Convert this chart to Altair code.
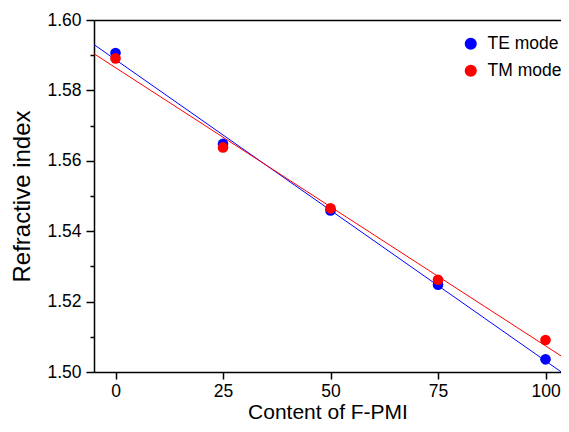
import altair as alt
import pandas as pd

# ---- data ----
content = [0, 25, 50, 75, 100]
te_mode = [1.5906, 1.5648, 1.5459, 1.5248, 1.5036]
tm_mode = [1.5891, 1.5638, 1.5465, 1.5262, 1.5091]
modes = ["TE mode", "TM mode"]
colors = ["#0000FF", "#FF0000"]
x_ticks = [0, 25, 50, 75, 100]
y_major = [1.50, 1.52, 1.54, 1.56, 1.58, 1.60]
y_minor = [1.51, 1.53, 1.55, 1.57, 1.59]

df = pd.DataFrame({
    "content": content + content,
    "n": te_mode + tm_mode,
    "mode": [modes[0]] * len(content) + [modes[1]] * len(content),
})

font = "Liberation Sans"
xscale = alt.Scale(domain=[-5, 103.6], nice=False, zero=False)
yscale = alt.Scale(domain=[1.50, 1.60], nice=False, zero=False)
cscale = alt.Scale(domain=modes, range=colors)

legend = alt.Legend(orient="none", legendX=368, legendY=15,
                    title=None, labelFontSize=17.5, labelFont=font,
                    labelColor="black", symbolSize=113,
                    symbolType="circle", labelOffset=8,
                    rowPadding=8, padding=0)

xaxis = alt.Axis(values=x_ticks, title="Content of F-PMI", tickSize=7,
                 labelPadding=3, titlePadding=2, titleFontSize=21, grid=False)
yaxis = alt.Axis(values=y_major, format=".2f", title="Refractive index",
                 tickSize=8, labelPadding=5, titlePadding=12, titleFontSize=24,
                 grid=False)

lines = alt.Chart(df).transform_regression(
    "content", "n", groupby=["mode"], extent=[-5, 105]
).mark_line(strokeWidth=1, clip=True).encode(
    x=alt.X("content:Q", scale=xscale, axis=xaxis),
    y=alt.Y("n:Q", scale=yscale, axis=yaxis),
    color=alt.Color("mode:N", scale=cscale, legend=legend),
)

points = alt.Chart(df).mark_circle(size=113, opacity=1).encode(
    x=alt.X("content:Q", scale=xscale, axis=None),
    y=alt.Y("n:Q", scale=yscale, axis=None),
    color=alt.Color("mode:N", scale=cscale, legend=legend),
)

frame = alt.Chart(df).mark_point(opacity=0).encode(
    x=alt.X("content:Q", scale=xscale,
            axis=alt.Axis(orient="top", labels=False, ticks=False, domain=True,
                          title=None, grid=False)),
    y=alt.Y("n:Q", scale=yscale,
            axis=alt.Axis(orient="left", values=y_minor, labels=False, tickSize=4,
                          domain=False, title=None, grid=False)),
)

chart = alt.layer(lines, points, frame).resolve_axis(
    x="independent", y="independent"
).properties(
    width=467, height=352,
    autosize=alt.AutoSizeParams(type="none"),
    padding={"left": 86, "top": 12, "right": 0, "bottom": 48},
).configure_view(stroke=None).configure_axis(
    domainColor="black", domainWidth=1.5, tickColor="black", tickWidth=1.5,
    labelFont=font, labelFontSize=17.5, labelColor="black",
    titleFont=font, titleColor="black", titleFontWeight="normal",
)

chart.save("out.html", embed_options={"renderer": "svg", "actions": False})
